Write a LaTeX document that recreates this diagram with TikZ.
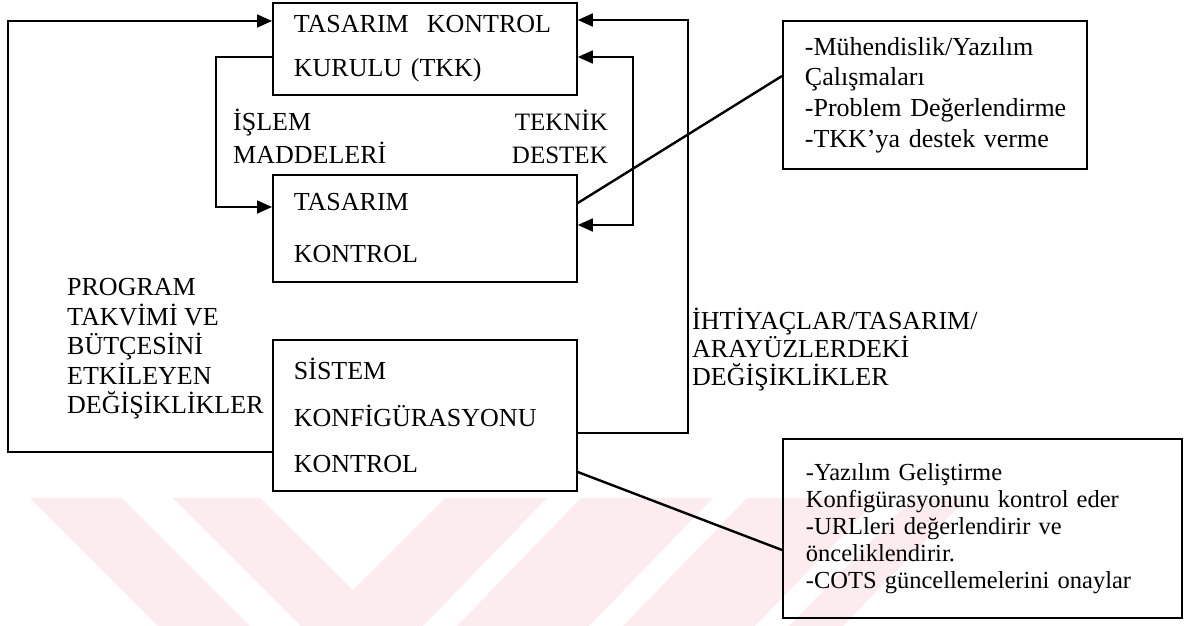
\documentclass[tikz,border=0pt]{standalone}
\usepackage{fontspec}
\setmainfont{Liberation Serif}
\usetikzlibrary{arrows.meta}
\definecolor{wm}{RGB}{252,236,240}
\begin{document}
\begin{tikzpicture}[x=1pt,y=-1pt,
  box/.style={draw, line width=1.8pt, rectangle, anchor=north west, align=left, inner ysep=0pt},
  tip/.style={-{Triangle[length=15pt,width=13pt]}},
  conn/.style={line width=1.8pt, tip},
  link/.style={line width=2.4pt},
  lbl/.style={inner sep=0pt, align=left}]
\useasboundingbox (0,0) rectangle (1186,626);
\fill[white] (0,0) rectangle (1186,626);
% faint watermark
\fill[wm] (30,498) -- (122,498) -- (250,626) -- (158,626) -- cycle;
\fill[wm] (173,498) -- (260,498) -- (353,590) -- (445,498) -- (547,498) -- (423,626) -- (301,626) -- cycle;
\fill[wm] (581,498) -- (713,498) -- (589,626) -- (457,626) -- cycle;
\fill[wm] (747,498) -- (879,498) -- (755,626) -- (623,626) -- cycle;
\fill[wm] (913,498) -- (967,498) -- (843,626) -- (789,626) -- cycle;
% boxes
\node[box, minimum width=304pt, minimum height=92pt, inner xsep=21pt, text width=262pt,
  font=\fontsize{26pt}{44pt}\selectfont] (b1) at (272,2)
  {\mbox{TASARIM\hspace{18pt}KONTROL}\\\mbox{KURULU (TKK)}};
\node[box, minimum width=304pt, minimum height=107pt, inner xsep=21pt, text width=262pt,
  font=\fontsize{26pt}{52pt}\selectfont] (b2) at (272,174) {\mbox{TASARIM}\\\mbox{KONTROL}};
\node[box, minimum width=304pt, minimum height=151pt, inner xsep=21pt, text width=262pt,
  font=\fontsize{26pt}{46.5pt}\selectfont] (b3) at (272,339)
  {\mbox{SİSTEM}\\\mbox{KONFİGÜRASYONU}\\\mbox{KONTROL}};
\node[box, minimum width=304pt, minimum height=148pt, inner xsep=22pt, text width=260pt,
  font=\fontsize{26pt}{30.7pt}\selectfont] (b4) at (782,20)
  {\mbox{-Mühendislik/Yazılım}\\\mbox{Çalışmaları}\\\mbox{-Problem Değerlendirme}\\\mbox{-TKK’ya destek verme}};
\node[box, minimum width=399pt, minimum height=179pt, inner xsep=23pt, text width=353pt,
  font=\fontsize{24.5pt}{27pt}\selectfont] (b5) at (782,438)
  {\mbox{-Yazılım Geliştirme}\\\mbox{Konfigürasyonunu kontrol eder}\\\mbox{-URLleri değerlendirir ve}\\\mbox{önceliklendirir.}\\\mbox{-COTS güncellemelerini onaylar}};
% labels
\node[lbl, anchor=west, font=\fontsize{26pt}{29.5pt}\selectfont] (lp) at (67,349)
  {PROGRAM\\TAKVİMİ VE\\BÜTÇESİNİ\\ETKİLEYEN\\DEĞİŞİKLİKLER};
\node[lbl, anchor=west, font=\fontsize{26pt}{33pt}\selectfont] (li) at (233,136.5) {İŞLEM\\MADDELERİ};
\node[lbl, anchor=east, align=right, font=\fontsize{25pt}{33pt}\selectfont] (lt) at (608,136.5) {TEKNİK\\DESTEK};
\node[lbl, anchor=west, font=\fontsize{26pt}{28pt}\selectfont] (lr) at (692,350)
  {İHTİYAÇLAR/TASARIM/\\ARAYÜZLERDEKİ\\DEĞİŞİKLİKLER};
% bend points
\coordinate (L1) at (8,452);  \coordinate (L2) at (8,21);
\coordinate (I1) at (216,57); \coordinate (I2) at (216,207);
\coordinate (R1) at (633,57); \coordinate (R2) at (633,225);
\coordinate (O1) at (688,433); \coordinate (O2) at (688,20);
\coordinate (P1) at (0,203); \coordinate (P2) at (0,76);
\coordinate (Q1) at (0,472); \coordinate (Q2) at (0,550);
% connectors
\draw[conn] (b3.west |- L1) -- (L1) -- (L2) -- (b1.west |- L2);
\draw[conn] (b1.west |- I1) -- (I1) -- (I2) -- (b2.west |- I2);
\draw[line width=1.8pt, {Triangle[length=15pt,width=13pt]}-{Triangle[length=15pt,width=13pt]}]
  (b1.east |- R1) -- (R1) -- (R2) -- (b2.east |- R2);
\draw[conn] (b3.east |- O1) -- (O1) -- (O2) -- (b1.east |- O2);
\draw[link] (b2.east |- P1) -- (b4.west |- P2);
\draw[link] (b3.east |- Q1) -- (b5.west |- Q2);
\end{tikzpicture}
\end{document}
